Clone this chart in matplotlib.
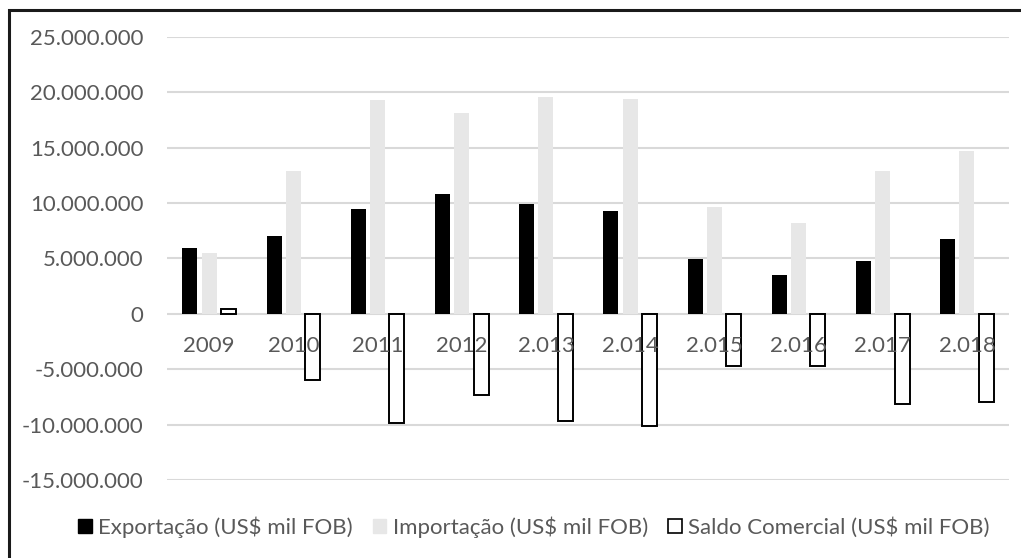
import matplotlib.pyplot as plt
import matplotlib.ticker as mticker
from matplotlib.patches import Patch, Rectangle
import numpy as np

plt.rcParams['font.family'] = ['Lato', 'DejaVu Sans']

anos = ['2009', '2010', '2011', '2012', '2.013', '2.014', '2.015', '2.016', '2.017', '2.018']
exportacao = [5940000, 7030000, 9420000, 10780000, 9900000, 9280000, 4980000, 3510000, 4800000, 6760000]
importacao = [5520000, 12900000, 19330000, 18100000, 19570000, 19400000, 9670000, 8200000, 12900000, 14650000]
saldo = [450000, -5950000, -9900000, -7300000, -9640000, -10150000, -4680000, -4680000, -8100000, -7930000]

cinza = '#595959'

fig = plt.figure(figsize=(10.21, 5.58), dpi=100)
ax = fig.add_axes([0.1636, 0.1398, 0.8247, 0.7944])

x = np.arange(len(anos))
w = 0.178
step = 0.229

ax.bar(x - step, exportacao, w, color='black', zorder=2)
ax.bar(x, importacao, w, color='#E7E7E7', zorder=2)
ax.bar(x + step, saldo, w, facecolor='white', edgecolor='black', linewidth=1.4, zorder=2)

ax.set_xlim(-0.5, len(anos) - 0.5)
ax.set_ylim(-15000000, 25000000)
ax.set_yticks(np.arange(-15000000, 25000001, 5000000))
ax.yaxis.set_major_formatter(mticker.FuncFormatter(lambda v, p: f'{int(v):,}'.replace(',', '.')))
ax.tick_params(axis='y', length=0, pad=17, labelsize=16, labelcolor=cinza)
ax.set_xticks([])
ax.grid(axis='y', color='#D9D9D9', linewidth=1.5, zorder=0)
for s in ax.spines.values():
    s.set_visible(False)

# rótulos das categorias junto à linha do zero
for xi, ano in zip(x, anos):
    ax.annotate(ano, (xi, 0), xytext=(0, -23), textcoords='offset points',
                ha='center', va='center', fontsize=16, color=cinza, zorder=5)

handles = [Patch(facecolor='black', edgecolor='black'),
           Patch(facecolor='#E7E7E7', edgecolor='#E7E7E7'),
           Patch(facecolor='white', edgecolor='black', linewidth=1.2)]
labels = ['Exportação (US$ mil FOB)', 'Importação (US$ mil FOB)', 'Saldo Comercial (US$ mil FOB)']
leg = fig.legend(handles, labels, loc='center', bbox_to_anchor=(0.523, 0.055), ncol=3,
                 frameon=False, fontsize=16, handlelength=0.6, handleheight=0.6,
                 handletextpad=0.3, columnspacing=0.9)
for t in leg.get_texts():
    t.set_color(cinza)

# moldura do gráfico
fig.patches.append(Rectangle((9 / 1021, -0.1), 1.2, 1 - 10 / 558 + 0.1,
                             transform=fig.transFigure, fill=False,
                             edgecolor='#1a1a1a', linewidth=2.2))

fig.savefig('out.png', dpi=100)
